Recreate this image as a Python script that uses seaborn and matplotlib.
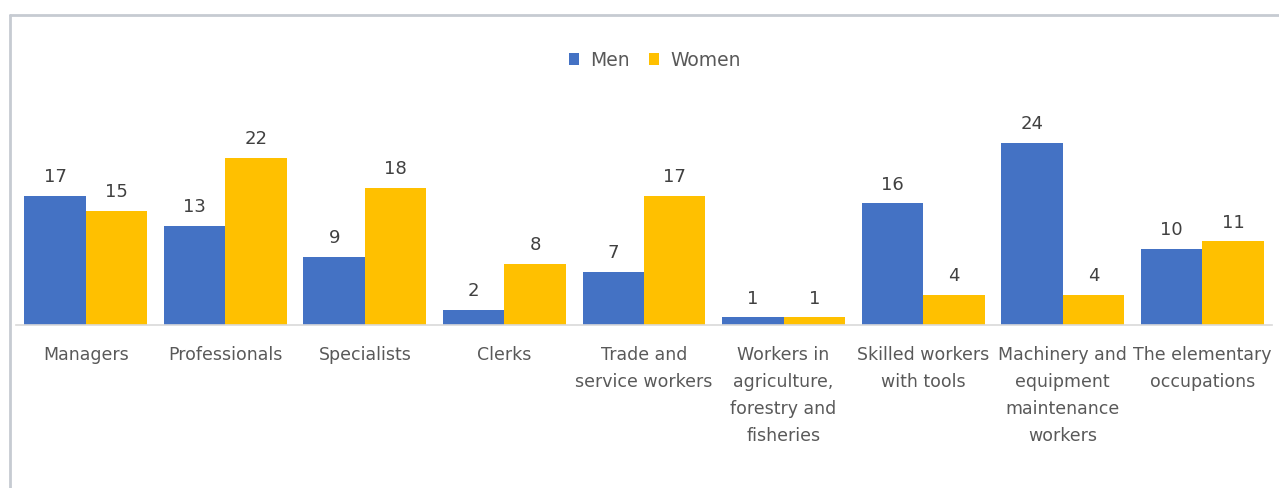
import matplotlib
matplotlib.use("Agg")
import matplotlib.pyplot as plt
from matplotlib.lines import Line2D
from matplotlib.patches import Patch
import seaborn as sns
import pandas as pd

categories = [
    "Managers",
    "Professionals",
    "Specialists",
    "Clerks",
    "Trade and\nservice workers",
    "Workers in\nagriculture,\nforestry and\nfisheries",
    "Skilled workers\nwith tools",
    "Machinery and\nequipment\nmaintenance\nworkers",
    "The elementary\noccupations",
]
men = [17, 13, 9, 2, 7, 1, 16, 24, 10]
women = [15, 22, 18, 8, 17, 1, 4, 4, 11]
series = ["Men", "Women"]
colors = {"Men": "#4472C4", "Women": "#FFC000"}

df = pd.DataFrame({
    "category": categories * 2,
    "group": ["Men"] * len(categories) + ["Women"] * len(categories),
    "value": men + women,
})

sns.set_theme(style="white")
plt.rcParams["font.family"] = ["DejaVu Sans"]

W, H = 1279, 488
fig = plt.figure(figsize=(W / 100, H / 100), dpi=100)
ax = fig.add_axes([16 / W, (H - 325) / H, (1272 - 16) / W, 228 / H])

sns.barplot(data=df, x="category", y="value", hue="group", order=categories,
            hue_order=series, palette=colors, width=0.88, gap=0,
            saturation=1, linewidth=0, edgecolor="none", legend=False, ax=ax)

for cont in ax.containers:
    ax.bar_label(cont, padding=7, fontsize=13, color="#404040")

ax.set_ylim(0, 30)
ax.set_xlim(-0.5, len(categories) - 0.5)
ax.set_xlabel("")
ax.set_ylabel("")
ax.set_yticks([])
ax.tick_params(axis="x", length=0, pad=15, labelsize=12.5, labelcolor="#595959")
for lab in ax.get_xticklabels():
    lab.set_linespacing(1.65)
for s in ["left", "right", "top"]:
    ax.spines[s].set_visible(False)
ax.spines["bottom"].set_color("#d9d9d9")
ax.spines["bottom"].set_linewidth(1.2)

handles = [Patch(facecolor=colors[s], edgecolor="none") for s in series]
fig.legend(handles, series, loc="center", bbox_to_anchor=(655 / W, 1 - 60 / H),
           ncol=2, frameon=False, fontsize=13.5, labelcolor="#595959",
           handlelength=0.55, handleheight=0.55, handletextpad=0.6, columnspacing=1.0)

# chart frame (top and left edges)
fig.add_artist(Line2D([10 / W, 1.0], [1 - 15 / H, 1 - 15 / H], transform=fig.transFigure,
                      color="#c6cbd2", lw=2))
fig.add_artist(Line2D([10 / W, 10 / W], [1 - 15 / H, 0], transform=fig.transFigure,
                      color="#c6cbd2", lw=2))

fig.savefig("out.png", dpi=100)
